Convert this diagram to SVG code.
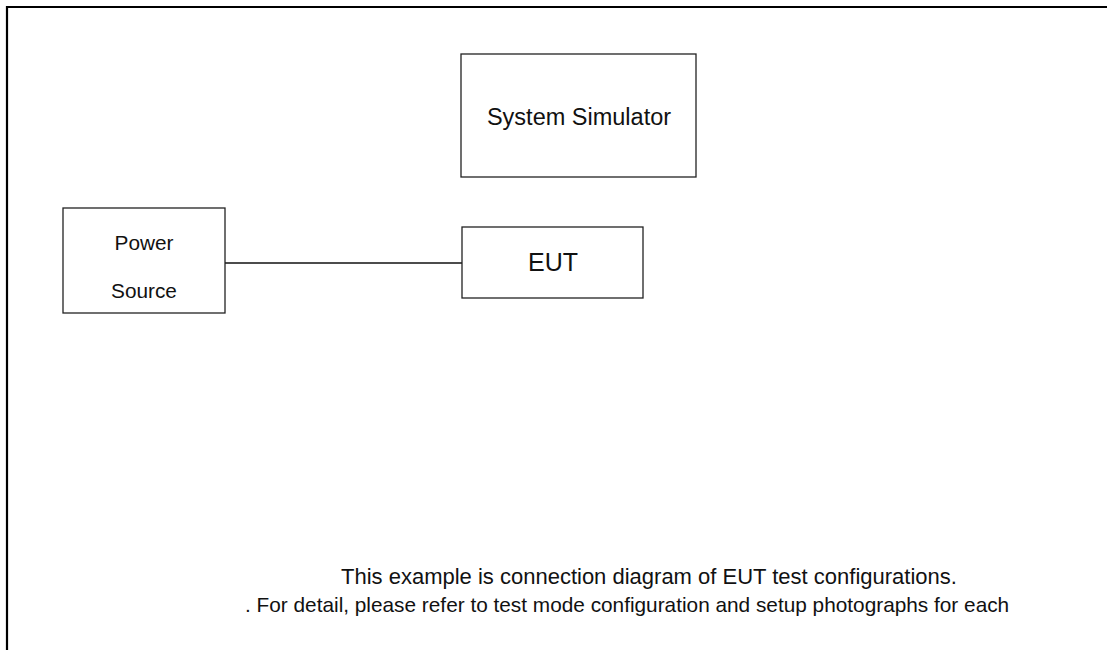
<svg xmlns="http://www.w3.org/2000/svg" width="1107" height="650" viewBox="0 0 1107 650">
<style>
.box{fill:#fff;stroke:#222;stroke-width:1.3}
.t{font-family:"Liberation Sans",Arial,sans-serif;fill:#111;text-anchor:middle}
.l{font-family:"Liberation Sans",Arial,sans-serif;fill:#111}
</style>
<rect width="1107" height="650" fill="#fff"/>
<path d="M7 650 V7 H1107" fill="none" stroke="#000" stroke-width="2.2"/>
<g id="connectors">
<line x1="225" y1="263" x2="462" y2="263" stroke="#111" stroke-width="1.3"/>
</g>
<g id="system-simulator">
<rect class="box" x="461" y="54" width="235" height="123"/>
<text class="t" x="579" y="125" font-size="23.5">System Simulator</text>
</g>
<g id="power-source">
<rect class="box" x="63" y="208" width="162" height="105"/>
<text class="t" x="144" y="250" font-size="20.8">Power</text>
<text class="t" x="144" y="298" font-size="20.8">Source</text>
</g>
<g id="eut">
<rect class="box" x="462" y="227" width="181" height="71"/>
<text class="t" x="553" y="271" font-size="25">EUT</text>
</g>
<g id="notes">
<text class="l" x="341" y="584" font-size="22">This example is connection diagram of EUT test configurations.</text>
<text class="l" x="245" y="612" font-size="20.8">. For detail, please refer to test mode configuration and setup photographs for each</text>
</g>
</svg>
